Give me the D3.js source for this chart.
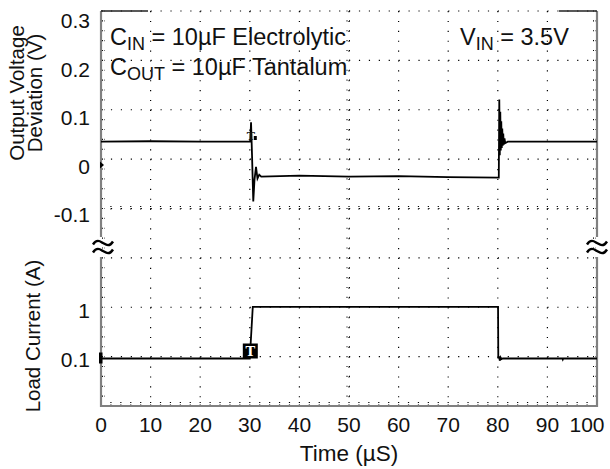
<!DOCTYPE html>
<html>
<head>
<meta charset="utf-8">
<script src="https://cdn.jsdelivr.net/npm/d3@7"></script>
<style>
  body { margin: 0; background: #fff; }
  text { font-family: Arial, "Liberation Sans", sans-serif; fill: #111; }
</style>
</head>
<body>
<div id="chart"></div>
<script>
// time axis (µs)
const timeTicks = [0, 10, 20, 30, 40, 50, 60, 70, 80, 90, 100];
// upper panel: output voltage deviation (V)
const voltTicks = [0.3, 0.2, 0.1, 0, -0.1];
const voltTime = [0, 10, 20, 30.1, 30.25, 30.45, 30.7, 30.95, 31.25, 31.55, 31.9, 32.3, 40, 50, 60, 70, 80.2,
  80.3, 80.4, 80.5, 80.6, 80.7, 80.8, 80.9, 81.0, 81.1, 81.2, 81.35, 81.5, 82, 90, 100];
const voltValue = [0.048, 0.049, 0.048, 0.048, 0.088, 0.02, -0.075, -0.03, -0.004, -0.028, -0.02, -0.024, -0.022, -0.024, -0.023, -0.025, -0.026,
  0.135, 0.02, 0.11, 0.03, 0.09, 0.035, 0.075, 0.04, 0.065, 0.042, 0.055, 0.045, 0.048, 0.048, 0.048];
// lower panel: load current (A)
const currTicks = [1, 0.1];
const currTime = [0, 30.0, 30.6, 50, 80.05, 80.1, 80.25, 80.4, 80.55, 80.75, 81, 93, 93.1, 93.2, 100];
const currValue = [0.1, 0.1, 1.04, 1.04, 1.04, 0.1, 0.14, 0.06, 0.12, 0.09, 0.1, 0.1, 0.08, 0.1, 0.1];

const width = 610, height = 469;
const mLeft = 101, mRight = 597, mTop = 11, mBottom = 406;

const svg = d3.select('#chart').append('svg')
  .attr('width', width).attr('height', height);
svg.append('rect').attr('width', width).attr('height', height).attr('fill', '#fff');

const x = d3.scaleLinear().domain([0, 100]).range([mLeft, mRight]);
const yV = d3.scaleLinear().domain([-0.1, 0.3]).range([213.5, 19.5]);
const yI = d3.scaleLinear().domain([0.1, 1]).range([358.5, 309]);
// scope graticule: 10 x 8 divisions
const gx = d3.scaleLinear().domain([0, 10]).range([mLeft, mRight]);
const gy = d3.scaleLinear().domain([0, 8]).range([mTop, mBottom]);

const grid = svg.append('g').attr('stroke', '#000').attr('stroke-width', 1.2);
const subX = (mRight - mLeft) / 50, subY = (mBottom - mTop) / 40;

// dotted division lines
for (let k = 1; k < 10; k++) {
  grid.append('line').attr('x1', gx(k)).attr('x2', gx(k)).attr('y1', mTop).attr('y2', mBottom)
    .attr('stroke-dasharray', `1.2 ${subY - 1.2}`);
}
for (let k = 0; k < 8; k++) {
  grid.append('line').attr('y1', gy(k)).attr('y2', gy(k)).attr('x1', mLeft).attr('x2', mRight)
    .attr('stroke-dasharray', `1.2 ${subX - 1.2}`);
}
// center line minor ticks
for (let i = 0; i <= 40; i++) {
  const yy = mTop + i * subY;
  grid.append('line').attr('x1', gx(5) - 2.5).attr('x2', gx(5) + 2.5).attr('y1', yy).attr('y2', yy)
    .attr('stroke-dasharray', '1 1.5');
  grid.append('line').attr('x1', mLeft + 1).attr('x2', mLeft + 4).attr('y1', yy).attr('y2', yy)
    .attr('stroke-dasharray', '1 1.5');
  grid.append('line').attr('x1', mRight - 4).attr('x2', mRight - 1).attr('y1', yy).attr('y2', yy)
    .attr('stroke-dasharray', '1 1.5');
}
for (let i = 0; i <= 50; i++) {
  const xx = mLeft + i * subX;
  grid.append('line').attr('y1', gy(4) - 2.5).attr('y2', gy(4) + 2.5).attr('x1', xx).attr('x2', xx)
    .attr('stroke-dasharray', '1 1.5');
  grid.append('line').attr('y1', mBottom - 4).attr('y2', mBottom - 1).attr('x1', xx).attr('x2', xx)
    .attr('stroke-dasharray', '1 1.5');
}

// frame, with the axis break on both sides
const frame = svg.append('g').attr('stroke', '#808080').attr('stroke-width', 2.2).attr('fill', 'none');
frame.append('line').attr('x1', mLeft).attr('x2', mLeft).attr('y1', mTop).attr('y2', 237);
frame.append('line').attr('x1', mLeft).attr('x2', mLeft).attr('y1', 257).attr('y2', mBottom + 1);
frame.append('line').attr('x1', mRight).attr('x2', mRight).attr('y1', mTop).attr('y2', 237);
frame.append('line').attr('x1', mRight).attr('x2', mRight).attr('y1', 257).attr('y2', mBottom + 1);
frame.append('line').attr('x1', mLeft).attr('x2', mRight).attr('y1', mBottom).attr('y2', mBottom);
svg.append('line').attr('x1', mLeft).attr('x2', 148).attr('y1', mTop).attr('y2', mTop)
  .attr('stroke', '#222').attr('stroke-width', 1.5);
svg.append('line').attr('x1', 559).attr('x2', mRight).attr('y1', mTop).attr('y2', mTop)
  .attr('stroke', '#222').attr('stroke-width', 1.5);

// break marks (two stacked tildes)
[mLeft + 2, mRight].forEach(bx => {
  [243, 251].forEach(by => {
    svg.append('path')
      .attr('d', `M${bx - 10},${by + 1.5}C${bx - 6},${by - 5} ${bx - 2},${by - 1} ${bx},${by}` +
        `S${bx + 6},${by + 5} ${bx + 10},${by - 1.5}`)
      .attr('fill', 'none').attr('stroke', '#000').attr('stroke-width', 2.4);
  });
});

// traces
const line = d3.line();
svg.append('path')
  .attr('d', line(voltTime.map((t, i) => [x(t), yV(voltValue[i])])))
  .attr('fill', 'none').attr('stroke', '#000').attr('stroke-width', 1.8);
svg.append('path')
  .attr('d', line(currTime.map((t, i) => [x(t), yI(currValue[i])])))
  .attr('fill', 'none').attr('stroke', '#000').attr('stroke-width', 1.8);

// ground markers at left edge
svg.append('path').attr('d', `M${mLeft - 1},${yV(0) - 3.5}L${mLeft + 3},${yV(0)}L${mLeft - 1},${yV(0) + 3.5}Z`)
  .attr('fill', '#000');
svg.append('rect').attr('x', mLeft - 2).attr('y', yI(0.1) - 6).attr('width', 3.5).attr('height', 11).attr('fill', '#000');

// trigger markers
svg.append('text').attr('x', x(30.2)).attr('y', 140).attr('text-anchor', 'middle')
  .style('font-family', 'DejaVu Serif, serif').style('font-size', '11px').style('font-weight', 'bold').text('T');
svg.append('rect').attr('x', x(30.2) + 3).attr('y', 136).attr('width', 3).attr('height', 4).attr('fill', '#000');
svg.append('rect').attr('x', x(29.8) - 6).attr('y', yI(0.1) - 15).attr('width', 15).attr('height', 15).attr('fill', '#000');
svg.append('text').attr('x', x(29.8) + 1.5).attr('y', yI(0.1) - 2.5).attr('text-anchor', 'middle')
  .style('font-family', 'DejaVu Serif, serif').style('font-size', '13px').style('font-weight', 'bold')
  .style('fill', '#fff').text('T');

// tick labels
svg.append('g').selectAll('text').data(voltTicks).join('text')
  .attr('x', 90).attr('y', d => yV(d) + 3).attr('text-anchor', 'end')
  .attr('dominant-baseline', 'middle').style('font-size', '21px')
  .text(d => d === 0 ? '0' : d3.format('.1f')(d).replace('−', '-'));
svg.append('g').selectAll('text').data(currTicks).join('text')
  .attr('x', 90).attr('y', d => yI(d) + 3).attr('text-anchor', 'end')
  .attr('dominant-baseline', 'middle').style('font-size', '21px')
  .text(d => d === 1 ? '1' : '0.1');
svg.append('g').selectAll('text').data(timeTicks).join('text')
  .attr('x', d => d === 100 ? x(d) - 10 : x(d)).attr('y', 432).attr('text-anchor', 'middle')
  .style('font-size', '21px')
  .text(d => d);

// axis titles
svg.append('text').attr('x', 349).attr('y', 461).attr('text-anchor', 'middle').style('font-size', '22.5px')
  .text('Time (µS)');
svg.append('text').attr('transform', 'translate(24,93) rotate(-90)').attr('text-anchor', 'middle')
  .style('font-size', '20.5px').text('Output Voltage');
svg.append('text').attr('transform', 'translate(42,93) rotate(-90)').attr('text-anchor', 'middle')
  .style('font-size', '20.5px').text('Deviation (V)');
svg.append('text').attr('transform', 'translate(40,336) rotate(-90)').attr('text-anchor', 'middle')
  .style('font-size', '20.5px').text('Load Current (A)');

// annotations
function label(px, py, main, sub, rest) {
  const t = svg.append('text').attr('x', px).attr('y', py).style('font-size', '23.5px');
  t.append('tspan').text(main);
  t.append('tspan').attr('dy', 5).style('font-size', '18px').text(sub);
  t.append('tspan').attr('dy', -5).text(rest);
}
label(110, 45, 'C', 'IN', ' = 10µF Electrolytic');
label(110, 75, 'C', 'OUT', ' = 10µF Tantalum');
label(460, 45, 'V', 'IN', ' = 3.5V');
</script>
</body>
</html>
